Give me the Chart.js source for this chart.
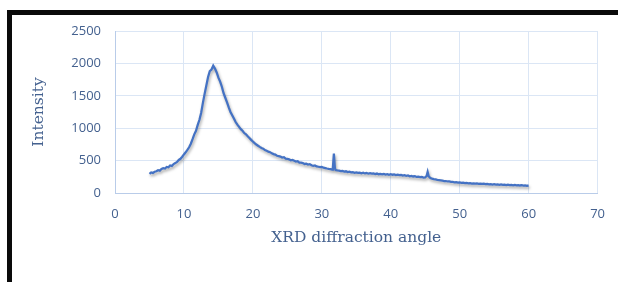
<!DOCTYPE html>
<html>
<head>
<meta charset="utf-8">
<script src="https://cdn.jsdelivr.net/npm/chart.js@4"></script>
<style>
  html, body { margin: 0; padding: 0; background: #fff; overflow: hidden; }
  .frame {
    position: absolute; left: 7px; top: 10px; width: 700px; height: 400px;
    border-top: 5px solid #0a0a0a; border-left: 5px solid #0a0a0a;
  }
  .wrap { position: absolute; left: 0; top: 0; width: 618px; height: 282px; }
</style>
</head>
<body>
<div class="frame"></div>
<div class="wrap"><canvas id="xrd-chart" width="618" height="282"></canvas></div>
<script>
// Data
const angles = [
  5, 5.25, 5.5, 5.75,
  6, 6.25, 6.5, 6.75,
  7, 7.25, 7.5, 7.75,
  8, 8.25, 8.5, 8.75,
  9, 9.25, 9.5, 9.75,
  10, 10.25, 10.5, 10.75,
  11, 11.25, 11.5, 11.75,
  12, 12.25, 12.5, 12.75,
  13, 13.25, 13.5, 13.75,
  14, 14.25, 14.5, 14.75,
  15, 15.25, 15.5, 15.75,
  16, 16.25, 16.5, 16.75,
  17, 17.25, 17.5, 17.75,
  18, 18.25, 18.5, 18.75,
  19, 19.25, 19.5, 19.75,
  20, 20.25, 20.5, 20.75,
  21, 21.25, 21.5, 21.75,
  22, 22.25, 22.5, 22.75,
  23, 23.25, 23.5, 23.75,
  24, 24.25, 24.5, 24.75,
  25, 25.25, 25.5, 25.75,
  26, 26.25, 26.5, 26.75,
  27, 27.25, 27.5, 27.75,
  28, 28.25, 28.5, 28.75,
  29, 29.25, 29.5, 29.75,
  30, 30.25, 30.5, 30.75,
  31, 31.25, 31.5, 31.6, 31.75, 31.9,
  32, 32.25, 32.5, 32.75,
  33, 33.25, 33.5, 33.75,
  34, 34.25, 34.5, 34.75,
  35, 35.25, 35.5, 35.75,
  36, 36.25, 36.5, 36.75,
  37, 37.25, 37.5, 37.75,
  38, 38.25, 38.5, 38.75,
  39, 39.25, 39.5, 39.75,
  40, 40.25, 40.5, 40.75,
  41, 41.25, 41.5, 41.75,
  42, 42.25, 42.5, 42.75,
  43, 43.25, 43.5, 43.75,
  44, 44.25, 44.5, 44.75,
  45, 45.2, 45.35, 45.5, 45.75,
  46, 46.25, 46.5, 46.75,
  47, 47.25, 47.5, 47.75,
  48, 48.25, 48.5, 48.75,
  49, 49.25, 49.5, 49.75,
  50, 50.25, 50.5, 50.75,
  51, 51.25, 51.5, 51.75,
  52, 52.25, 52.5, 52.75,
  53, 53.25, 53.5, 53.75,
  54, 54.25, 54.5, 54.75,
  55, 55.25, 55.5, 55.75,
  56, 56.25, 56.5, 56.75,
  57, 57.25, 57.5, 57.75,
  58, 58.25, 58.5, 58.75,
  59, 59.25, 59.5, 59.75,
  60
];

const intensity = [
  295, 318, 310, 328,
  335, 352, 345, 370,
  382, 378, 402, 396,
  425, 418, 447, 462,
  480, 510, 528, 560,
  595, 628, 665, 705,
  760, 830, 905, 960,
  1050, 1130, 1240, 1390,
  1530, 1660, 1790, 1880,
  1905, 1965, 1920, 1860,
  1780, 1720, 1640, 1540,
  1470, 1400, 1320, 1250,
  1200, 1150, 1095, 1055,
  1020, 985, 960, 925,
  905, 875, 850, 820,
  795, 770, 748, 730,
  712, 695, 684, 662,
  652, 638, 630, 612,
  600, 592, 575, 570,
  562, 548, 552, 530,
  528, 520, 505, 510,
  498, 485, 490, 470,
  468, 462, 448, 452,
  440, 445, 428, 420,
  425, 410, 405, 398,
  402, 390, 385, 378,
  372, 368, 362, 385, 610, 380,
  355, 348, 345, 338,
  340, 330, 335, 322,
  328, 318, 322, 312,
  318, 310, 315, 305,
  312, 302, 308, 298,
  305, 298, 302, 292,
  300, 290, 296, 288,
  295, 285, 292, 282,
  290, 282, 286, 276,
  284, 275, 280, 268,
  275, 266, 270, 258,
  265, 255, 260, 248,
  252, 245, 248, 238,
  242, 262, 325, 258, 232,
  222, 215, 210, 202,
  200, 195, 190, 184,
  185, 178, 180, 172,
  170, 165, 168, 160,
  162, 155, 158, 152,
  156, 150, 153, 146,
  150, 145, 148, 140,
  146, 140, 143, 136,
  140, 134, 138, 130,
  136, 130, 134, 126,
  132, 126, 130, 122,
  128, 122, 126, 118,
  124, 118, 122, 116,
  120, 115, 118, 112,
  115
];

const xTitle = 'XRD diffraction angle';
const yTitle = 'Intensity';

// Excel-like drop shadow under the line
const lineShadow = {
  id: 'lineShadow',
  beforeDatasetsDraw(chart) {
    const ctx = chart.ctx;
    ctx.save();
    ctx.shadowColor = 'rgba(0, 0, 0, 0.35)';
    ctx.shadowBlur = 3;
    ctx.shadowOffsetX = 1;
    ctx.shadowOffsetY = 2;
  },
  afterDatasetsDraw(chart) {
    chart.ctx.restore();
  }
};

const textColor = '#44618f';
const gridColor = '#dbe6f5';

new Chart(document.getElementById('xrd-chart'), {
  type: 'line',
  data: {
    datasets: [{
      data: angles.map((a, i) => ({ x: a, y: intensity[i] })),
      borderColor: '#4472c4',
      borderWidth: 2.25,
      pointRadius: 0,
      tension: 0,
      fill: false
    }]
  },
  options: {
    responsive: false,
    animation: false,
    layout: { padding: { top: 31, right: 18, left: 0, bottom: 0 } },
    plugins: {
      legend: { display: false },
      tooltip: { enabled: false }
    },
    scales: {
      x: {
        type: 'linear',
        min: 0,
        max: 70,
        afterFit: (scale) => { scale.height = 89; },
        ticks: {
          stepSize: 10,
          padding: 13,
          color: textColor,
          font: { family: 'Open Sans', size: 13 },
          callback: (v) => String(v)
        },
        grid: { color: gridColor, drawTicks: false },
        border: { color: '#b9cce9' },
        title: {
          display: true,
          text: xTitle,
          color: textColor,
          font: { family: 'DejaVu Serif', size: 15.5 },
          padding: { top: 0, bottom: 35 }
        }
      },
      y: {
        min: 0,
        max: 2500,
        afterFit: (scale) => { scale.width = 115; },
        ticks: {
          stepSize: 500,
          padding: 14,
          color: textColor,
          font: { family: 'Open Sans', size: 13 },
          callback: (v) => String(v)
        },
        grid: { color: gridColor, drawTicks: false },
        border: { color: '#b9cce9' },
        title: {
          display: true,
          text: yTitle,
          color: textColor,
          font: { family: 'DejaVu Serif', size: 15.5 },
          padding: { top: 30, bottom: 0 }
        }
      }
    }
  },
  plugins: [lineShadow]
});
</script>
</body>
</html>
